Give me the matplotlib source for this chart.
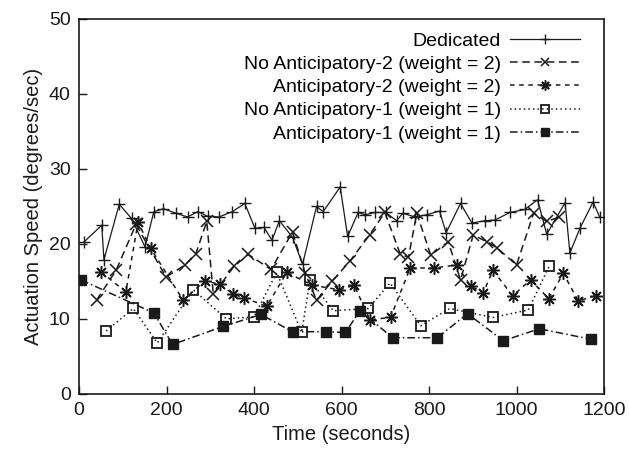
import matplotlib
matplotlib.use("Agg")
import matplotlib.pyplot as plt

plt.rcParams['font.family'] = ['Liberation Sans', 'DejaVu Sans']

# Dedicated
ded_t = [12, 52, 57, 92, 120, 151, 171, 193, 222, 248, 271, 294, 320, 350, 379,
         402, 423, 441, 458, 488, 511, 543, 558, 597, 614, 638, 654, 677, 701,
         726, 740, 768, 795, 824, 839, 872, 898, 928, 951, 985, 1019, 1048, 1069,
         1111, 1122, 1145, 1175, 1190]
ded_v = [20.3, 22.5, 17.9, 25.3, 23.4, 19.6, 24.3, 24.7, 24.1, 23.6, 24.3, 23.7,
         23.6, 24.3, 25.4, 22.1, 22.2, 20.5, 23.1, 20.9, 17.3, 25.0, 24.3, 27.6,
         21.0, 24.2, 23.9, 24.2, 24.2, 23.1, 24.1, 23.6, 23.9, 24.4, 21.5, 25.4,
         22.8, 23.1, 23.2, 24.2, 24.6, 25.9, 21.3, 25.5, 18.8, 22.1, 25.6, 23.6]

# No Anticipatory-2
na2_t = [40, 85, 130, 199, 242, 267, 292, 307, 354, 387, 439, 488, 517, 543, 578,
         619, 664, 699, 734, 753, 772, 804, 844, 872, 901, 932, 955, 1000, 1039,
         1069, 1098]
na2_v = [12.5, 16.5, 22.6, 15.6, 17.2, 18.7, 23.0, 13.3, 17.0, 18.6, 16.6, 21.6,
         16.1, 12.5, 15.0, 17.7, 21.2, 24.2, 18.7, 18.2, 24.1, 18.5, 20.3, 15.2,
         21.2, 20.3, 19.5, 17.2, 24.1, 23.0, 23.6]

# Anticipatory-2
a2_t = [50, 107, 135, 164, 238, 288, 322, 353, 378, 429, 475, 533, 595, 629, 665,
        712, 757, 811, 863, 895, 924, 946, 991, 1032, 1074, 1107, 1141, 1181]
a2_v = [16.3, 13.6, 22.9, 19.4, 12.5, 15.1, 14.6, 13.3, 12.8, 11.7, 16.2, 14.5,
        13.9, 14.5, 9.9, 10.2, 16.8, 16.8, 17.2, 14.4, 13.5, 16.5, 13.1, 15.2,
        12.7, 16.1, 12.4, 13.1]

# No Anticipatory-1
na1_t = [62, 124, 179, 261, 337, 400, 452, 509, 528, 581, 661, 711, 781, 847, 946,
         1027, 1075]
na1_v = [8.4, 11.4, 6.8, 13.9, 10.0, 10.3, 16.2, 8.2, 15.2, 11.1, 11.4, 14.8, 9.1,
         11.4, 10.2, 11.2, 17.1]

# Anticipatory-1
a1_t = [5, 171, 214, 329, 416, 488, 564, 609, 642, 717, 819, 888, 970, 1052, 1170]
a1_v = [15.2, 10.8, 6.6, 9.0, 10.6, 8.3, 8.3, 8.2, 11.1, 7.5, 7.5, 10.7, 7.1, 8.7, 7.3]

labels = ['Dedicated', 'No Anticipatory-2 (weight = 2)', 'Anticipatory-2 (weight = 2)',
          'No Anticipatory-1 (weight = 1)', 'Anticipatory-1 (weight = 1)']

x_ticks = [0, 200, 400, 600, 800, 1000, 1200]
y_ticks = [0, 10, 20, 30, 40, 50]

col = '#1a1a1a'
fig = plt.figure(figsize=(6.29, 4.54), dpi=100)
ax = fig.add_axes([0.1256, 0.1322, 0.8347, 0.826])

ax.plot(ded_t, ded_v, color=col, lw=0.9, ls='-', marker='+', ms=9, mew=1.0, label=labels[0])
ax.plot(na2_t, na2_v, color=col, lw=1.1, ls=(0, (5, 3)), marker='x', ms=8, mew=1.1, label=labels[1])
ax.plot(a2_t, a2_v, color=col, lw=1.1, ls=(0, (3, 3)), marker=(8, 2, 0), ms=9, mew=1.1, label=labels[2])
ax.plot(na1_t, na1_v, color=col, lw=1.1, ls=(0, (1, 2)), marker='s', ms=7, mfc='none', mew=1.3, label=labels[3])
ax.plot(a1_t, a1_v, color=col, lw=1.1, ls=(0, (5, 2, 1, 2)), marker='s', ms=7, mfc=col, label=labels[4])

ax.set_xlim(0, 1200)
ax.set_ylim(0, 50)
ax.set_xticks(x_ticks)
ax.set_yticks(y_ticks)
ax.tick_params(direction='in', length=6, width=1, labelsize=14, colors=col, pad=6)
for s in ax.spines.values():
    s.set_linewidth(1.2)
    s.set_color(col)

ax.set_xlabel('Time (seconds)', fontsize=14.5, color=col, labelpad=4)
ax.set_ylabel('Actuation Speed (degrees/sec)', fontsize=14.5, color=col, labelpad=4)

ax.legend(loc='upper right', bbox_to_anchor=(0.955, 0.965), frameon=False,
          markerfirst=False, fontsize=14, handlelength=3.6, handletextpad=0.5,
          labelspacing=0.29, borderpad=0, borderaxespad=0, markerscale=0.8)

fig.savefig('out.png', dpi=100)
